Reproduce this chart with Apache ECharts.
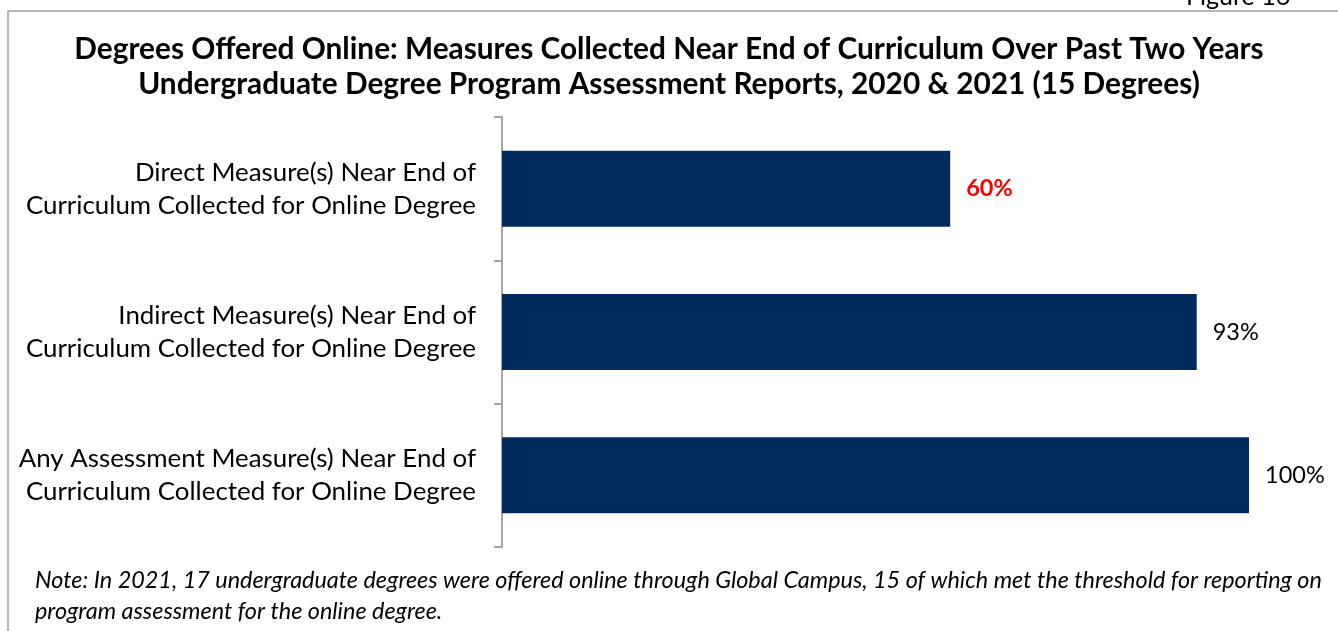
<!DOCTYPE html>
<html>
<head>
<meta charset="utf-8">
<script src="https://cdn.jsdelivr.net/npm/echarts@6/dist/echarts.min.js"></script>
<style>
  html, body { margin: 0; padding: 0; background: #fff; }
  #chart { width: 1338px; height: 631px; }
</style>
</head>
<body>
<div id="chart"></div>
<script>
// data
const categories = [
  'Direct Measure(s) Near End of\nCurriculum Collected for Online Degree',
  'Indirect Measure(s) Near End of\nCurriculum Collected for Online Degree',
  'Any Assessment Measure(s) Near End of\nCurriculum Collected for Online Degree'
];
const percentValues = [60, 93, 100];
const highlightIndex = 0; // first bar label shown in red bold

const titleText = 'Degrees Offered Online: Measures Collected Near End of Curriculum Over Past Two Years\nUndergraduate Degree Program Assessment Reports, 2020 & 2021 (15 Degrees)';
const noteText = 'Note: In 2021, 17 undergraduate degrees were offered online through Global Campus, 15 of which met the threshold for reporting on\nprogram assessment for the online degree.';

const font = 'Lato, "Noto Sans", sans-serif';

const chart = echarts.init(document.getElementById('chart'));

chart.setOption({
  backgroundColor: '#fff',
  animation: false,
  title: {
    text: titleText,
    left: 'center',
    top: 27,
    textStyle: {
      fontFamily: font,
      fontWeight: 'bold',
      fontSize: 29.8,
      lineHeight: 35,
      color: '#000'
    }
  },
  grid: { left: 502, right: 89, top: 117, bottom: 84 },
  xAxis: {
    type: 'value',
    min: 0,
    max: 100,
    show: false
  },
  yAxis: {
    type: 'category',
    inverse: true,
    data: categories,
    axisLine: { show: true, lineStyle: { color: '#A6A6A6', width: 2 } },
    axisTick: { show: true, length: 8, lineStyle: { color: '#A6A6A6', width: 2 } },
    axisLabel: {
      margin: 26,
      fontFamily: font,
      fontSize: 25.9,
      lineHeight: 33,
      color: '#000',
      align: 'right'
    }
  },
  series: [{
    type: 'bar',
    barWidth: '53%',
    data: percentValues.map((v, i) => ({
      value: v,
      label: i === highlightIndex
        ? { color: '#FF0000', fontWeight: 'bold' }
        : {}
    })),
    itemStyle: { color: '#002B5C' },
    label: {
      show: true,
      position: 'right',
      distance: 16,
      formatter: '{c}%',
      fontFamily: font,
      fontSize: 23.5,
      color: '#000'
    }
  }],
  graphic: [
    {
      type: 'rect',
      shape: { x: 8, y: 11, width: 1400, height: 700 },
      style: { fill: 'none', stroke: '#A0A0A0', lineWidth: 1.5 }
    },
    {
      type: 'text',
      left: 1186,
      top: -16,
      style: { text: 'Figure 16', font: '25px ' + font, fill: '#000' }
    },
    {
      type: 'text',
      left: 35,
      top: 565,
      style: {
        text: noteText,
        font: 'italic 23.4px ' + font,
        lineHeight: 31,
        fill: '#000'
      }
    }
  ]
});
</script>
</body>
</html>
